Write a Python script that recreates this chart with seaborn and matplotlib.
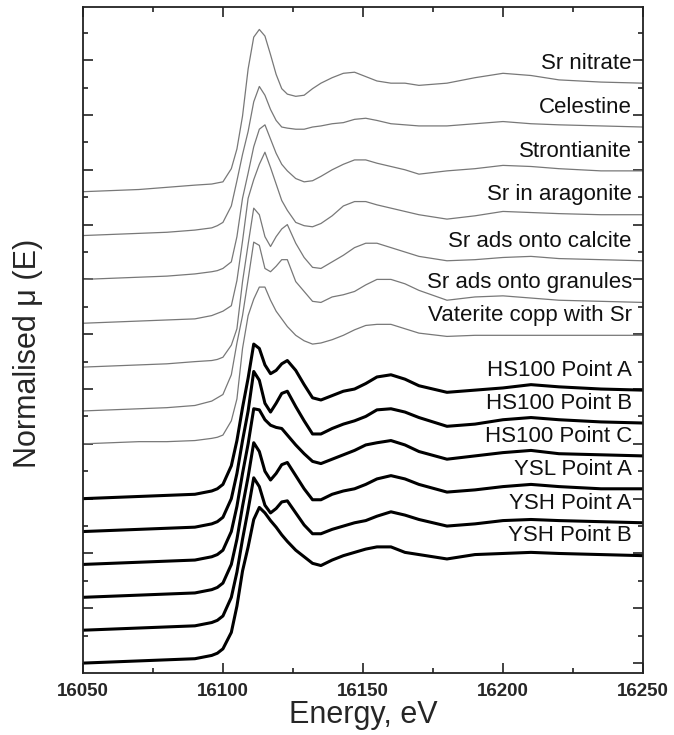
import pandas as pd
import matplotlib.pyplot as plt
import seaborn as sns
from matplotlib.ticker import MultipleLocator

# Sr K-edge XANES, normalised mu(E), stacked with vertical offsets
energy = [16050, 16070, 16080, 16090, 16096, 16098, 16100, 16103, 16105, 16107,
          16109, 16111, 16113, 16115, 16117, 16119, 16121, 16123, 16126, 16129,
          16132, 16135, 16139, 16143, 16147, 16151, 16155, 16160, 16165, 16170,
          16180, 16190, 16200, 16210, 16220, 16235, 16250]

sr_nitrate = [0.00, 0.02, 0.04, 0.06, 0.07, 0.08, 0.09, 0.21, 0.39, 0.69,
              1.12, 1.41, 1.48, 1.42, 1.25, 1.07, 0.94, 0.89, 0.87, 0.88,
              0.94, 0.99, 1.04, 1.08, 1.09, 1.05, 1.01, 0.99, 0.99, 0.97,
              0.99, 1.04, 1.08, 1.06, 1.02, 1.00, 0.99]
celestine = [0.00, 0.02, 0.03, 0.05, 0.07, 0.09, 0.12, 0.27, 0.50, 0.74,
             0.95, 1.22, 1.36, 1.28, 1.15, 1.05, 0.99, 0.98, 0.97, 0.97,
             0.99, 1.00, 1.02, 1.03, 1.06, 1.07, 1.05, 1.02, 1.01, 1.00,
             1.00, 1.02, 1.04, 1.02, 1.01, 1.00, 0.99]
strontianite = [0.00, 0.02, 0.03, 0.05, 0.07, 0.08, 0.10, 0.16, 0.39, 0.74,
                0.97, 1.21, 1.37, 1.41, 1.28, 1.15, 1.05, 0.99, 0.92, 0.89,
                0.90, 0.94, 1.00, 1.05, 1.09, 1.09, 1.06, 1.03, 1.00, 0.96,
                0.99, 1.01, 1.04, 1.03, 1.01, 0.99, 0.99]
sr_aragonite = [0.00, 0.02, 0.03, 0.04, 0.07, 0.09, 0.11, 0.16, 0.39, 0.75,
                1.14, 1.31, 1.45, 1.56, 1.42, 1.27, 1.12, 1.03, 0.92, 0.89,
                0.88, 0.91, 0.98, 1.07, 1.11, 1.11, 1.08, 1.05, 1.02, 0.99,
                0.95, 0.98, 1.02, 1.01, 1.00, 0.99, 0.99]
sr_calcite = [0.00, 0.02, 0.03, 0.05, 0.06, 0.07, 0.09, 0.20, 0.35, 0.78,
              1.12, 1.45, 1.39, 1.19, 1.10, 1.19, 1.26, 1.30, 1.13, 1.00,
              0.91, 0.90, 0.96, 1.02, 1.09, 1.13, 1.13, 1.09, 1.05, 1.01,
              0.97, 0.98, 1.00, 1.01, 0.99, 0.98, 0.97]
sr_granules = [0.00, 0.02, 0.03, 0.05, 0.09, 0.12, 0.15, 0.33, 0.62, 0.87,
               1.20, 1.54, 1.51, 1.30, 1.27, 1.32, 1.38, 1.38, 1.18, 1.09,
               1.00, 0.99, 1.04, 1.06, 1.09, 1.15, 1.20, 1.20, 1.16, 1.10,
               1.01, 1.04, 1.05, 1.03, 1.01, 1.00, 0.99]
vaterite = [0.00, 0.02, 0.02, 0.03, 0.05, 0.06, 0.08, 0.21, 0.41, 0.87,
            1.17, 1.32, 1.43, 1.43, 1.31, 1.21, 1.14, 1.07, 0.99, 0.94,
            0.91, 0.92, 0.95, 0.99, 1.04, 1.08, 1.09, 1.09, 1.05, 1.01,
            0.98, 0.99, 0.99, 0.99, 0.99, 0.99, 0.99]

hs100_a = [0.00, 0.02, 0.03, 0.04, 0.07, 0.09, 0.13, 0.30, 0.53, 0.83,
           1.10, 1.41, 1.37, 1.22, 1.14, 1.17, 1.23, 1.26, 1.17, 1.04,
           0.92, 0.90, 0.94, 0.98, 1.00, 1.05, 1.11, 1.13, 1.09, 1.03,
           0.97, 0.99, 1.01, 1.04, 1.02, 1.00, 0.99]
hs100_b = [0.00, 0.02, 0.03, 0.04, 0.07, 0.09, 0.13, 0.30, 0.53, 0.83,
           1.10, 1.46, 1.38, 1.17, 1.09, 1.17, 1.26, 1.28, 1.14, 1.01,
           0.89, 0.89, 0.94, 0.98, 1.01, 1.05, 1.11, 1.12, 1.09, 1.04,
           0.96, 0.98, 1.02, 1.04, 1.02, 1.00, 0.99]
hs100_c = [0.00, 0.02, 0.03, 0.04, 0.07, 0.09, 0.13, 0.30, 0.53, 0.83,
           1.10, 1.42, 1.41, 1.32, 1.27, 1.25, 1.24, 1.18, 1.09, 1.01,
           0.94, 0.92, 0.96, 1.00, 1.04, 1.09, 1.11, 1.13, 1.09, 1.03,
           0.96, 0.99, 1.02, 1.04, 1.01, 1.00, 0.99]
ysl_a = [0.00, 0.02, 0.03, 0.04, 0.07, 0.09, 0.13, 0.30, 0.53, 0.83,
         1.10, 1.41, 1.33, 1.15, 1.07, 1.13, 1.21, 1.23, 1.11, 0.99,
         0.89, 0.89, 0.94, 0.97, 0.99, 1.03, 1.08, 1.11, 1.08, 1.03,
         0.96, 0.98, 1.01, 1.03, 1.01, 0.99, 0.99]
ysh_a = [0.00, 0.02, 0.03, 0.04, 0.07, 0.09, 0.13, 0.30, 0.53, 0.83,
         1.10, 1.39, 1.31, 1.14, 1.07, 1.11, 1.17, 1.18, 1.07, 0.96,
         0.88, 0.88, 0.92, 0.95, 0.98, 1.00, 1.04, 1.08, 1.05, 1.01,
         0.95, 0.97, 1.00, 1.01, 1.00, 0.99, 0.98]
ysh_b = [0.00, 0.02, 0.03, 0.04, 0.07, 0.09, 0.13, 0.28, 0.52, 0.84,
         1.06, 1.31, 1.42, 1.37, 1.30, 1.24, 1.17, 1.11, 1.03, 0.97,
         0.91, 0.89, 0.94, 0.98, 1.01, 1.04, 1.06, 1.06, 1.01, 0.99,
         0.95, 0.99, 1.00, 1.01, 1.00, 0.99, 0.98]

ref_names = ["Sr nitrate", "Celestine", "Strontianite", "Sr in aragonite",
             "Sr ads onto calcite", "Sr ads onto granules", "Vaterite copp with Sr"]
ref_spectra = [sr_nitrate, celestine, strontianite, sr_aragonite,
               sr_calcite, sr_granules, vaterite]
ref_offsets = [4.3, 3.9, 3.5, 3.1, 2.7, 2.3, 2.0]

sample_names = ["HS100 Point A", "HS100 Point B", "HS100 Point C",
                "YSL Point A", "YSH Point A", "YSH Point B"]
sample_spectra = [hs100_a, hs100_b, hs100_c, ysl_a, ysh_a, ysh_b]
sample_offsets = [1.5, 1.2, 0.9, 0.6, 0.3, 0.0]


def stack(names, spectra, offsets):
    rows = []
    for name, mu, off in zip(names, spectra, offsets):
        for e, m in zip(energy, mu):
            rows.append({"name": name, "energy": e, "mu": m + off})
    return pd.DataFrame(rows)


def main():
    sns.set_style("ticks")
    plt.rcParams['font.family'] = ['Liberation Sans', 'DejaVu Sans']

    fig, ax = plt.subplots(figsize=(6.74, 7.35), dpi=100)
    fig.subplots_adjust(left=0.123, right=0.954, top=0.9905, bottom=0.0844)

    refs = stack(ref_names, ref_spectra, ref_offsets)
    samples = stack(sample_names, sample_spectra, sample_offsets)

    sns.lineplot(data=refs, x="energy", y="mu", hue="name",
                 palette=["#787878"] * len(ref_names), linewidth=0.9,
                 estimator=None, legend=False, ax=ax)
    sns.lineplot(data=samples, x="energy", y="mu", hue="name",
                 palette=["black"] * len(sample_names), linewidth=2.2,
                 estimator=None, legend=False, ax=ax)

    # labels sit just above the right end of each spectrum
    for names, spectra, offsets in [(ref_names, ref_spectra, ref_offsets),
                                    (sample_names, sample_spectra, sample_offsets)]:
        for name, mu, off in zip(names, spectra, offsets):
            ax.text(16246, off + mu[-1] + 0.18, name, ha="right", va="center",
                    fontsize=16, color="#111111")

    ax.set_xlim(16050, 16250)
    ax.set_ylim(-0.09, 5.985)
    ax.xaxis.set_major_locator(MultipleLocator(50))
    ax.xaxis.set_minor_locator(MultipleLocator(25))
    ax.yaxis.set_major_locator(MultipleLocator(0.5))
    ax.yaxis.set_minor_locator(MultipleLocator(0.25))
    ax.tick_params(which="both", direction="in", top=True, right=True,
                   labelleft=False, width=1.2, color="#222222")
    ax.tick_params(which="major", length=7, pad=7)
    ax.tick_params(which="minor", length=3.5)
    for lab in ax.get_xticklabels():
        lab.set_fontweight("bold")
        lab.set_fontsize(13.5)

    for sp in ax.spines.values():
        sp.set_linewidth(1.3)
        sp.set_color("#222222")

    ax.set_xlabel("Energy, eV", fontsize=22, labelpad=0)
    ax.set_ylabel("Normalised μ (E)", fontsize=22)
    ax.yaxis.set_label_coords(-0.072, 0.48)

    plt.savefig("out.png", dpi=100)


if __name__ == "__main__":
    main()
